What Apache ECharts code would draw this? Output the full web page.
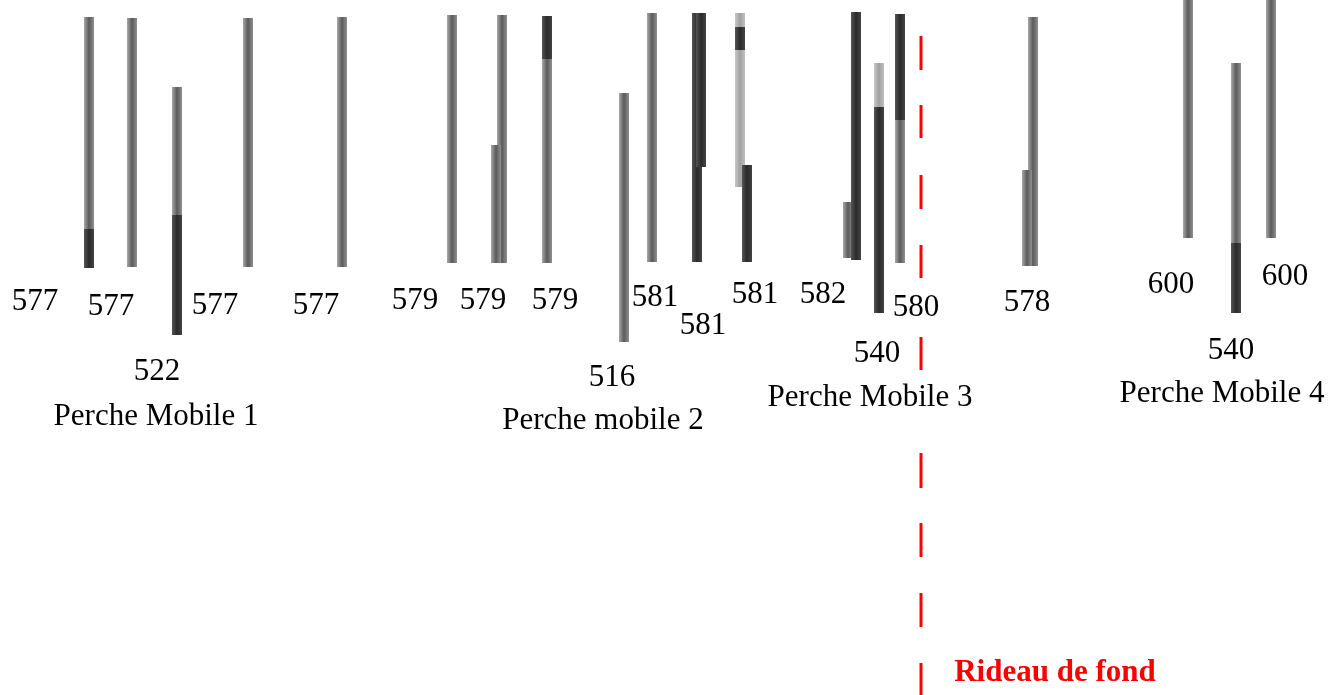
<!DOCTYPE html>
<html>
<head>
<meta charset="utf-8">
<script src="https://cdn.jsdelivr.net/npm/echarts@6/dist/echarts.min.js"></script>
<style>
html,body{margin:0;padding:0;background:#fff;}
#chart{width:1331px;height:695px;}
</style>
</head>
<body>
<div id="chart"></div>
<script>
// ---- data ----
const perches = ['Perche Mobile 1', 'Perche mobile 2', 'Perche Mobile 3', 'Perche Mobile 4'];
const percheX = [156, 603, 870, 1222];
const percheY = [417, 421, 398, 394];

const rodLabels = ['577','577','522','577','577','579','579','579','516','581','581','581','582','540','580','578','600','540','600'];
const labelX = [35, 111, 157, 215, 316, 415, 483, 555, 612, 655, 703, 755, 823, 877, 916, 1027, 1171, 1231, 1285];
const labelY = [302, 307, 372, 306, 306, 301, 301, 301, 378, 298, 326, 295, 295, 354, 308, 303, 285, 351, 277];

// rod segments: [x, top, bottom]
const lightSegments = [
  [740, 13, 187], [879, 63, 107]
];
const midSegments = [
  [89, 17, 229], [132, 18, 267], [177, 87, 215], [248, 18, 267], [342, 17, 267],
  [452, 15, 263], [502, 15, 263], [496, 145, 263], [547, 59, 263], [624, 93, 342],
  [652, 13, 262], [848, 202, 258], [900, 120, 263], [1033, 17, 266], [1027, 170, 266],
  [1188, 0, 238], [1236, 63, 243], [1271, 0, 238]
];
const darkSegments = [
  [89, 229, 268], [177, 215, 335], [547, 16, 59], [697, 13, 262], [701, 13, 167],
  [740, 27, 50], [747, 165, 262], [856, 12, 260], [879, 107, 313], [900, 14, 120],
  [1236, 243, 313]
];

const curtainX = 921;
const curtainDashes = [[36,70],[105,138],[175,209],[245,278],[337,370],[453,488],[523,557],[593,627],[663,695]];
const curtainLabel = 'Rideau de fond';
const curtainLabelPos = [1055, 673];

// ---- chart ----
const ROD_W = 10;
function grad(edge1, center, edge2) {
  return new echarts.graphic.LinearGradient(0, 0, 1, 0, [
    {offset: 0, color: edge1}, {offset: 0.5, color: center}, {offset: 1, color: edge2}
  ]);
}
function rodSeries(data, fill) {
  return {
    type: 'custom', data: data, silent: true,
    renderItem: function (params, api) {
      const x = api.value(0), y1 = api.value(1), y2 = api.value(2);
      const p1 = api.coord([x - ROD_W / 2, y1]);
      const p2 = api.coord([x + ROD_W / 2, y2]);
      return {type: 'rect', shape: {x: p1[0], y: p1[1], width: p2[0] - p1[0], height: p2[1] - p1[1]}, style: {fill: fill}};
    }
  };
}
const serif = '"Liberation Serif", "Times New Roman", serif';
function textSeries(names, xs, ys, color, weight) {
  return {
    type: 'scatter', symbolSize: 0, silent: true,
    itemStyle: {opacity: 1, color: color},
    data: names.map((t, i) => ({value: [xs[i], ys[i]], name: t})),
    label: {show: true, position: 'inside', formatter: '{b}', color: color, opacity: 1,
            textBorderWidth: 0, fontFamily: serif, fontSize: 31, fontWeight: weight}
  };
}
const chart = echarts.init(document.getElementById('chart'));
chart.setOption({
  animation: false,
  backgroundColor: '#fff',
  grid: {left: 0, right: 0, top: 0, bottom: 0},
  xAxis: {type: 'value', min: 0, max: 1331, show: false},
  yAxis: {type: 'value', min: 0, max: 695, inverse: true, show: false},
  series: [
    rodSeries(lightSegments, grad('#c8c8c8', '#a0a0a0', '#c0c0c0')),
    rodSeries(midSegments, grad('#a8a8a8', '#5a5a5a', '#909090')),
    rodSeries(darkSegments, grad('#555', '#2a2a2a', '#444')),
    {
      type: 'custom', silent: true, data: curtainDashes,
      renderItem: function (params, api) {
        const a = api.coord([curtainX, api.value(0)]);
        const b = api.coord([curtainX, api.value(1)]);
        return {type: 'line', shape: {x1: a[0], y1: a[1], x2: b[0], y2: b[1]}, style: {stroke: '#ff0000', lineWidth: 3}};
      }
    },
    textSeries(rodLabels, labelX, labelY, '#000', 'normal'),
    textSeries(perches, percheX, percheY, '#000', 'normal'),
    textSeries([curtainLabel], [curtainLabelPos[0]], [curtainLabelPos[1]], '#ff0000', 'bold')
  ]
});
</script>
</body>
</html>
